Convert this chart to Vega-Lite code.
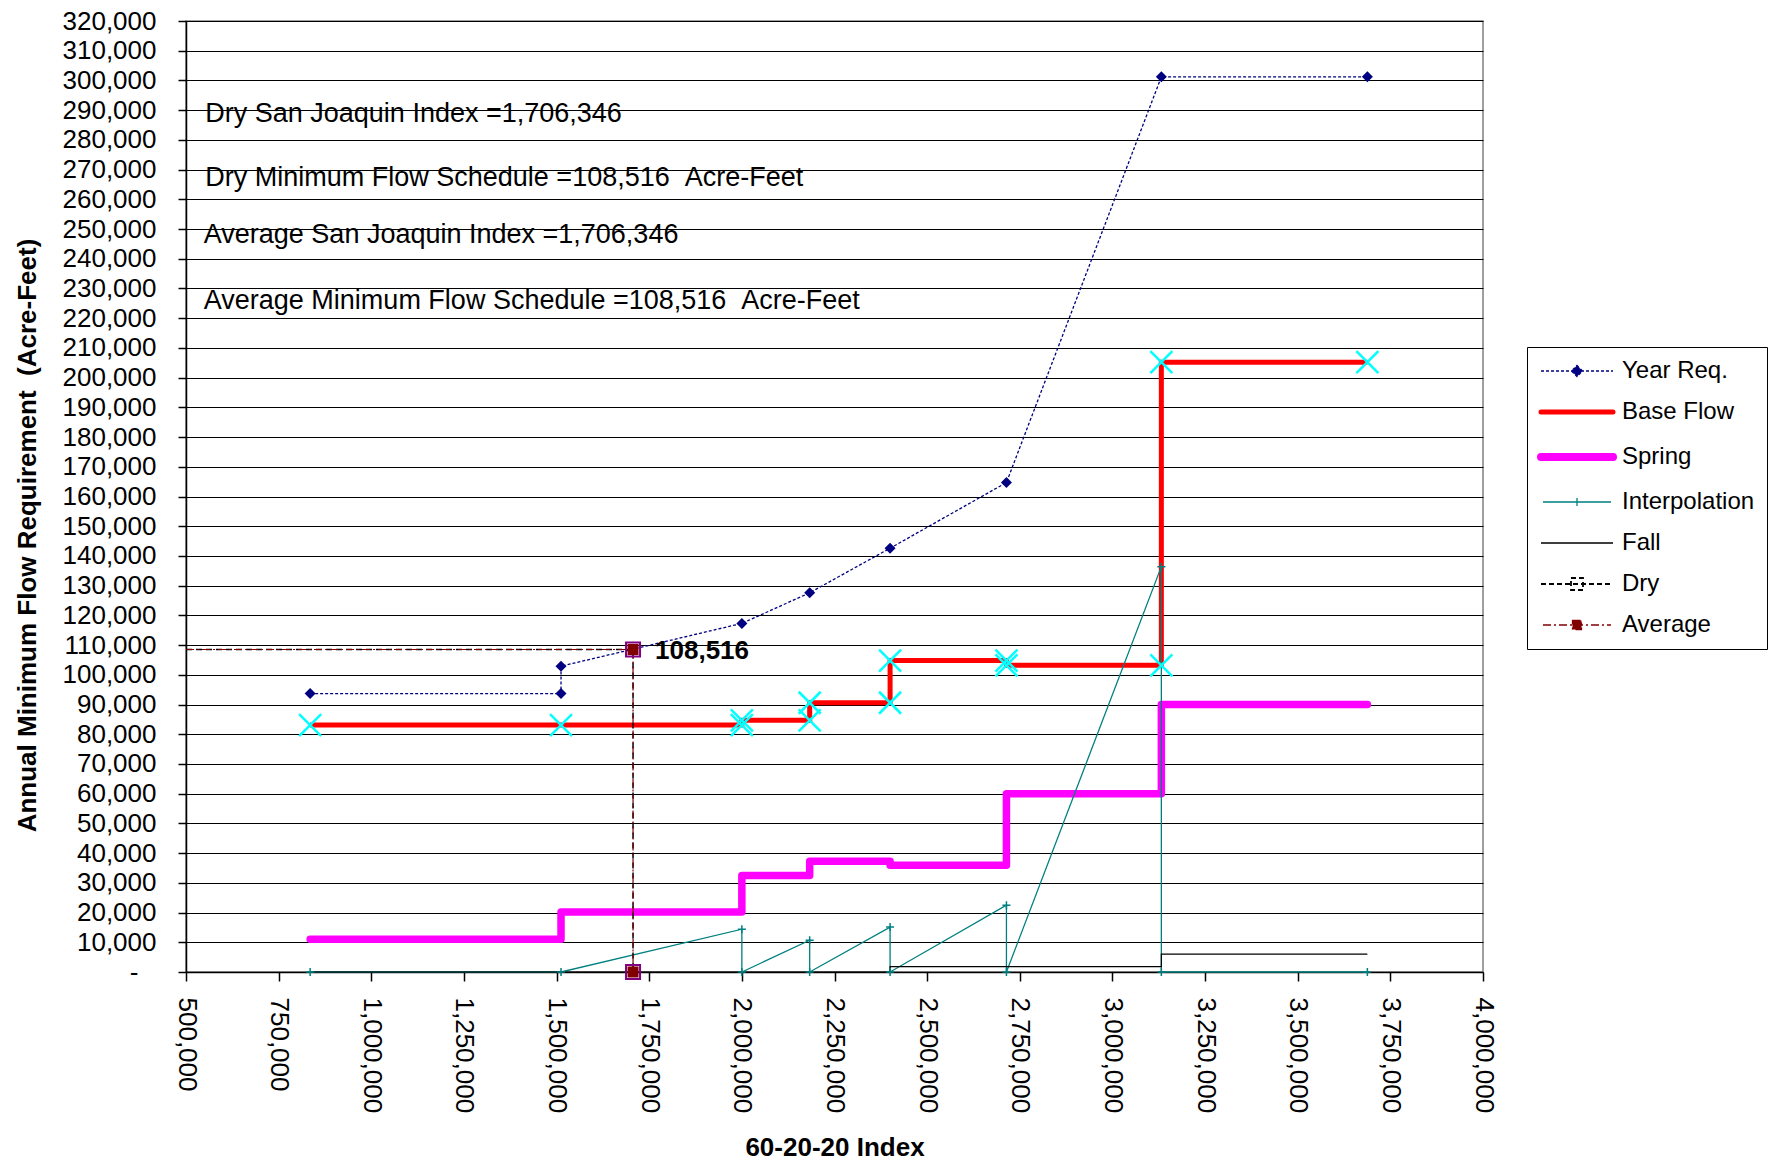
{
  "$schema": "https://vega.github.io/schema/vega-lite/v6.json",
  "width": 1297,
  "height": 951,
  "autosize": {"type": "none"},
  "padding": {"left": 186, "top": 21, "right": 290, "bottom": 193},
  "background": "#ffffff",
  "view": {"stroke": "#808080", "strokeWidth": 1.5},
  "config": {"font": "Liberation Sans"},
  "datasets": {
    "flow": [
      {"s": "Year Req.", "i": 0, "x": 835000, "y": 93700},
      {"s": "Year Req.", "i": 1, "x": 1512000, "y": 93700},
      {"s": "Year Req.", "i": 2, "x": 1512000, "y": 102900},
      {"s": "Year Req.", "i": 3, "x": 2000000, "y": 117300},
      {"s": "Year Req.", "i": 4, "x": 2183000, "y": 127600},
      {"s": "Year Req.", "i": 5, "x": 2400000, "y": 142600},
      {"s": "Year Req.", "i": 6, "x": 2714000, "y": 164700},
      {"s": "Year Req.", "i": 7, "x": 3132000, "y": 301200},
      {"s": "Year Req.", "i": 8, "x": 3688000, "y": 301200},

      {"s": "Base Flow", "i": 0, "x": 835000, "y": 83100},
      {"s": "Base Flow", "i": 1, "x": 1512000, "y": 83100},
      {"s": "Base Flow", "i": 2, "x": 2000000, "y": 83100},
      {"s": "Base Flow", "i": 3, "x": 2000000, "y": 84700},
      {"s": "Base Flow", "i": 4, "x": 2183000, "y": 84700},
      {"s": "Base Flow", "i": 5, "x": 2183000, "y": 90600},
      {"s": "Base Flow", "i": 6, "x": 2400000, "y": 90600},
      {"s": "Base Flow", "i": 7, "x": 2400000, "y": 104800},
      {"s": "Base Flow", "i": 8, "x": 2714000, "y": 104800},
      {"s": "Base Flow", "i": 9, "x": 2714000, "y": 103200},
      {"s": "Base Flow", "i": 10, "x": 3132000, "y": 103200},
      {"s": "Base Flow", "i": 11, "x": 3132000, "y": 205200},
      {"s": "Base Flow", "i": 12, "x": 3688000, "y": 205200},

      {"s": "Spring", "i": 0, "x": 835000, "y": 11000},
      {"s": "Spring", "i": 1, "x": 1512000, "y": 11000},
      {"s": "Spring", "i": 2, "x": 1512000, "y": 20200},
      {"s": "Spring", "i": 3, "x": 2000000, "y": 20200},
      {"s": "Spring", "i": 4, "x": 2000000, "y": 32500},
      {"s": "Spring", "i": 5, "x": 2183000, "y": 32500},
      {"s": "Spring", "i": 6, "x": 2183000, "y": 37300},
      {"s": "Spring", "i": 7, "x": 2400000, "y": 37300},
      {"s": "Spring", "i": 8, "x": 2400000, "y": 35900},
      {"s": "Spring", "i": 9, "x": 2714000, "y": 35900},
      {"s": "Spring", "i": 10, "x": 2714000, "y": 60000},
      {"s": "Spring", "i": 11, "x": 3132000, "y": 60000},
      {"s": "Spring", "i": 12, "x": 3132000, "y": 90000},
      {"s": "Spring", "i": 13, "x": 3688000, "y": 90000},

      {"s": "Interpolation", "i": 0, "x": 835000, "y": 0},
      {"s": "Interpolation", "i": 1, "x": 1512000, "y": 0},
      {"s": "Interpolation", "i": 2, "x": 2000000, "y": 14400},
      {"s": "Interpolation", "i": 3, "x": 2000000, "y": 0},
      {"s": "Interpolation", "i": 4, "x": 2183000, "y": 10700},
      {"s": "Interpolation", "i": 5, "x": 2183000, "y": 0},
      {"s": "Interpolation", "i": 6, "x": 2400000, "y": 15100},
      {"s": "Interpolation", "i": 7, "x": 2400000, "y": 0},
      {"s": "Interpolation", "i": 8, "x": 2714000, "y": 22500},
      {"s": "Interpolation", "i": 9, "x": 2714000, "y": 0},
      {"s": "Interpolation", "i": 10, "x": 3132000, "y": 136400},
      {"s": "Interpolation", "i": 11, "x": 3132000, "y": 0},
      {"s": "Interpolation", "i": 12, "x": 3688000, "y": 0},

      {"s": "Fall", "i": 0, "x": 835000, "y": 0},
      {"s": "Fall", "i": 1, "x": 2400000, "y": 0},
      {"s": "Fall", "i": 2, "x": 2400000, "y": 1800},
      {"s": "Fall", "i": 3, "x": 3132000, "y": 1800},
      {"s": "Fall", "i": 4, "x": 3132000, "y": 6000},
      {"s": "Fall", "i": 5, "x": 3688000, "y": 6000},

      {"s": "Dry", "i": 0, "x": 500000, "y": 108516},
      {"s": "Dry", "i": 1, "x": 1706346, "y": 108516},
      {"s": "Dry", "i": 2, "x": 1706346, "y": 0},

      {"s": "Average", "i": 0, "x": 500000, "y": 108516},
      {"s": "Average", "i": 1, "x": 1706346, "y": 108516},
      {"s": "Average", "i": 2, "x": 1706346, "y": 0}
    ],
    "notes": [
      {"t": "Dry San Joaquin Index =1,706,346", "x": 552000, "y": 288800},
      {"t": "Dry Minimum Flow Schedule =108,516 \u00a0Acre-Feet", "x": 552000, "y": 267300},
      {"t": "Average San Joaquin Index =1,706,346", "x": 548000, "y": 248000},
      {"t": "Average Minimum Flow Schedule =108,516 \u00a0Acre-Feet", "x": 548000, "y": 225800}
    ]
  },
  "data": {"name": "flow"},
  "encoding": {
    "x": {
      "field": "x",
      "type": "quantitative",
      "scale": {"domain": [500000, 4000000], "nice": false, "zero": false},
      "axis": {
        "values": [500000, 750000, 1000000, 1250000, 1500000, 1750000, 2000000, 2250000, 2500000, 2750000, 3000000, 3250000, 3500000, 3750000, 4000000],
        "format": ",.0f",
        "labelAngle": 90,
        "labelFlush": false,
        "labelOverlap": false,
        "labelFontSize": 26,
        "labelColor": "#000000",
        "labelPadding": 16,
        "grid": false,
        "domainColor": "#000000",
        "domainWidth": 1.5,
        "tickColor": "#000000",
        "tickWidth": 1.5,
        "tickSize": 9,
        "title": "60-20-20 Index",
        "titleFontSize": 26,
        "titleFontWeight": "bold",
        "titleColor": "#000000",
        "titlePadding": 22
      }
    },
    "y": {
      "field": "y",
      "type": "quantitative",
      "scale": {"domain": [0, 320000], "nice": false},
      "axis": {
        "values": [0, 10000, 20000, 30000, 40000, 50000, 60000, 70000, 80000, 90000, 100000, 110000, 120000, 130000, 140000, 150000, 160000, 170000, 180000, 190000, 200000, 210000, 220000, 230000, 240000, 250000, 260000, 270000, 280000, 290000, 300000, 310000, 320000],
        "format": ",.0f",
        "labelExpr": "datum.value === 0 ? '-' : datum.label",
        "labelFlush": false,
        "labelOverlap": false,
        "labelFontSize": 26,
        "labelColor": "#000000",
        "labelPadding": {"condition": {"test": "datum.value === 0", "value": 40}, "value": 22},
        "grid": true,
        "gridColor": "#000000",
        "gridWidth": 1.2,
        "domainColor": "#000000",
        "domainWidth": 1.5,
        "tickColor": "#000000",
        "tickWidth": 1.5,
        "tickSize": 8,
        "title": "Annual Minimum Flow Requirement \u00a0(Acre-Feet)",
        "titleFontSize": 26,
        "titleFontWeight": "bold",
        "titleColor": "#000000",
        "titlePadding": 22,
        "titleY": 514
      }
    },
    "color": {
      "field": "s",
      "type": "nominal",
      "scale": {
        "domain": ["Year Req.", "Base Flow", "Spring", "Interpolation", "Fall", "Dry", "Average"],
        "range": ["#000080", "#ff0000", "#ff00ff", "#008080", "#000000", "#000000", "#800000"]
      },
      "legend": {
        "title": null,
        "orient": "none",
        "legendX": 1341,
        "legendY": 326,
        "strokeColor": "#000000",
        "fillColor": "#ffffff",
        "padding": 12,
        "labelFontSize": 24,
        "labelColor": "#000000",
        "symbolType": "stroke",
        "symbolSize": 400,
        "symbolOffset": 26,
        "labelOffset": 33,
        "rowPadding": 17,
        "encode": {
          "symbols": {
            "update": {
              "shape": {"signal": "datum.value === 'Year Req.' ? 'M-3.6,0L3.6,0M0,-0.55L0.55,0L0,0.55L-0.55,0Z' : datum.value === 'Interpolation' ? 'M-3.4,0L3.4,0M0,-0.4L0,0.4' : datum.value === 'Dry' ? 'M-3.6,0L3.6,0M-0.6,-0.6L0.6,-0.6L0.6,0.6L-0.6,0.6Z' : datum.value === 'Average' ? 'M-3.4,0L3.4,0M-0.45,-0.45L0.45,-0.45L0.45,0.45L-0.45,0.45Z' : 'M-3.6,0L3.6,0'"},
              "fill": {"signal": "datum.value === 'Year Req.' ? '#000080' : datum.value === 'Average' ? '#800000' : 'transparent'"},
              "stroke": {"signal": "datum.value === 'Year Req.' ? '#000080' : datum.value === 'Base Flow' ? '#ff0000' : datum.value === 'Spring' ? '#ff00ff' : datum.value === 'Interpolation' ? '#008080' : datum.value === 'Average' ? '#800000' : '#000000'"},
              "strokeWidth": {"signal": "datum.value === 'Base Flow' ? 5 : datum.value === 'Spring' ? 8 : datum.value === 'Dry' ? 1.8 : 1.3"},
              "strokeDash": {"signal": "datum.value === 'Year Req.' ? [3, 2] : datum.value === 'Dry' ? [5, 3] : datum.value === 'Average' ? [8, 3, 2, 3] : [1, 0]"},
              "strokeCap": {"signal": "datum.value === 'Base Flow' || datum.value === 'Spring' ? 'round' : 'butt'"},
              "opacity": {"value": 1}
            }
          }
        }
      }
    }
  },
  "layer": [
    {
      "transform": [{"filter": "datum.s === 'Year Req.'"}],
      "mark": {"type": "line", "strokeWidth": 1.3, "strokeDash": [3, 2]},
      "encoding": {"order": {"field": "i"}}
    },
    {
      "transform": [{"filter": "datum.s === 'Base Flow'"}],
      "mark": {"type": "line", "strokeWidth": 5},
      "encoding": {"order": {"field": "i"}}
    },
    {
      "transform": [{"filter": "datum.s === 'Spring'"}],
      "mark": {"type": "line", "strokeWidth": 7.5, "strokeCap": "round", "strokeJoin": "round"},
      "encoding": {"order": {"field": "i"}}
    },
    {
      "transform": [{"filter": "datum.s === 'Interpolation'"}],
      "mark": {"type": "line", "strokeWidth": 1.3},
      "encoding": {"order": {"field": "i"}}
    },
    {
      "transform": [{"filter": "datum.s === 'Fall'"}],
      "mark": {"type": "line", "strokeWidth": 1.2},
      "encoding": {"order": {"field": "i"}}
    },
    {
      "transform": [{"filter": "datum.s === 'Dry'"}],
      "mark": {"type": "line", "strokeWidth": 1.5, "strokeDash": [6, 4]},
      "encoding": {"order": {"field": "i"}}
    },
    {
      "transform": [{"filter": "datum.s === 'Average'"}],
      "mark": {"type": "line", "strokeWidth": 1.2, "strokeDash": [8, 3, 2, 3]},
      "encoding": {"order": {"field": "i"}}
    },
    {
      "transform": [{"filter": "datum.s === 'Year Req.'"}],
      "mark": {"type": "point", "shape": "diamond", "filled": true, "size": 121, "opacity": 1},
      "encoding": {"color": {"value": "#000080"}}
    },
    {
      "transform": [{"filter": "datum.s === 'Base Flow'"}],
      "mark": {"type": "point", "shape": "M-1,-1L1,1M-1,1L1,-1", "filled": false, "size": 484, "strokeWidth": 2.5, "opacity": 1},
      "encoding": {"color": {"value": "#00ffff"}}
    },
    {
      "transform": [{"filter": "datum.s === 'Interpolation'"}],
      "mark": {"type": "point", "shape": "M-1,0L1,0M0,-1L0,1", "filled": false, "size": 64, "strokeWidth": 1.5, "opacity": 1},
      "encoding": {"color": {"value": "#008080"}}
    },
    {
      "transform": [{"filter": "datum.s === 'Dry' && datum.x > 500000"}],
      "mark": {"type": "point", "shape": "square", "filled": false, "size": 196, "strokeWidth": 2, "opacity": 1},
      "encoding": {"color": {"value": "#800080"}}
    },
    {
      "transform": [{"filter": "datum.s === 'Average' && datum.x > 500000"}],
      "mark": {"type": "point", "shape": "square", "filled": true, "size": 121, "opacity": 1},
      "encoding": {"color": {"value": "#800000"}}
    },
    {
      "transform": [{"filter": "datum.s === 'Dry' && datum.x > 500000 && datum.y > 0"}],
      "mark": {"type": "text", "align": "left", "baseline": "middle", "dx": 22, "dy": 1, "fontSize": 26, "fontWeight": "bold"},
      "encoding": {"text": {"field": "y", "format": ",.0f"}, "color": {"value": "#000000"}}
    },
    {
      "data": {"name": "notes"},
      "mark": {"type": "text", "align": "left", "baseline": "middle", "fontSize": 27},
      "encoding": {"text": {"field": "t"}, "color": {"value": "#000000"}}
    }
  ]
}
